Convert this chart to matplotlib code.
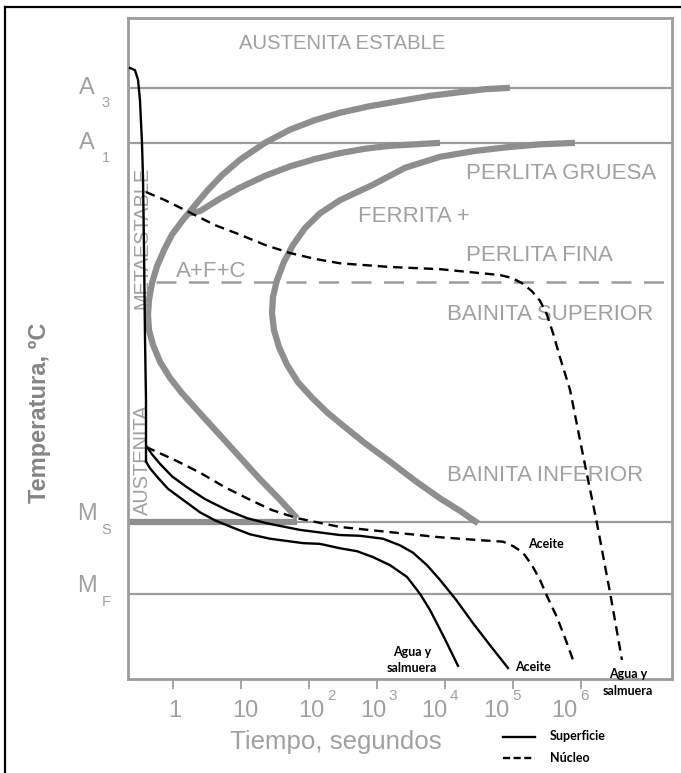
import matplotlib.pyplot as plt
from matplotlib.lines import Line2D
import matplotlib.transforms as mtransforms

# temperature levels (ºC scale)
A3, A1, AFC, MS, MF = 805, 730, 540, 214, 116

# gray C-curves (time in s, temperature)
start_t = [90400, 38730, 16600, 6016, 2180, 789, 286, 122.5, 52.6, 22.5, 9.66,
           5.26, 3.27, 2.11, 1.40, 0.966, 0.738, 0.582, 0.491, 0.444, 0.429,
           0.444, 0.508, 0.644, 0.903, 1.36, 2.49, 4.91, 9.66, 19.0, 37.5, 66.7]
start_T = [805, 803, 799, 794, 787, 780, 771, 761, 748, 730, 707,
           686, 666, 645, 625, 605, 584, 562, 539, 516, 496,
           475, 455, 432, 410, 389, 362, 332, 302, 272, 244, 219]
a1_branch_t = [8440, 3622, 1553, 666, 286, 122.5, 52.6, 22.5, 9.66, 4.91, 2.49, 1.72]
a1_branch_T = [730, 728, 726, 722, 716, 708, 698, 685, 669, 654, 637, 634]
end_t = [816000, 249500, 81600, 27600, 8440, 2582, 873, 286, 145, 87.4, 58.2,
         42.9, 33.8, 29.5, 28.6, 30.6, 36.2, 47.5, 68.9, 110.7, 190, 338, 666,
         1553, 3622, 8440, 16600, 30550]
end_T = [730, 728, 724, 719, 711, 696, 673, 652, 634, 614, 591,
         568, 543, 520, 498, 475, 452, 428, 404, 383, 362, 343, 321,
         296, 270, 246, 229, 212]
ms_bar_t = [0.218, 66.7]

# cooling curves
surf_vert_t = [0.233, 0.276, 0.306, 0.327, 0.350, 0.362, 0.375, 0.388, 0.401, 0.401]
surf_vert_T = [832, 829, 816, 788, 730, 684, 584, 462, 380, 296]
surf_agua_t = [0.401, 0.459, 0.601, 0.844, 1.40, 2.49, 4.15, 7.63, 13.6, 26.7,
               81.6, 145, 286, 508, 873, 1553, 2762, 4290, 6016, 9660, 15520]
surf_agua_T = [296, 287, 274, 259, 244, 227, 216, 206, 197, 191,
               185, 184, 178, 174, 166, 155, 139, 116, 94, 57, 18]
surf_aceite_t = [0.415, 0.491, 0.644, 0.966, 1.61, 2.95, 6.22, 12.25, 24.1, 73.8,
                 286, 562, 1225, 2180, 3384, 5433, 8440, 14520, 25820, 45900, 84400]
surf_aceite_T = [316, 306, 293, 276, 261, 245, 230, 219, 212, 203,
                 196, 195, 191, 182, 172, 155, 135, 108, 76, 46, 15]
core_aceite_t = [0.401, 1.07, 2.49, 5.82, 13.6, 28.6, 66.7, 286, 8440, 32700,
                 71290, 100000, 140300, 190000, 249500, 327000, 443700, 582000, 762900]
core_aceite_T = [316, 298, 281, 261, 244, 230, 219, 207, 193, 189,
                 187, 181, 172, 155, 135, 110, 84, 56, 26]
core_agua_t = [0.401, 0.762, 1.78, 4.15, 9.66, 22.5, 52.6, 122.5, 286, 1553, 8440,
               23300, 64420, 96700, 135600, 190000, 249500, 316000, 387500, 491000,
               688900, 1.07e6, 1718000, 2.67e6, 4009000]
core_agua_T = [663, 652, 635, 618, 605, 591, 580, 572, 566, 561, 558,
               554, 550, 546, 539, 528, 515, 496, 471, 438,
               394, 305, 212, 118, 26]

tick_exp = [0, 1, 2, 3, 4, 5, 6]
tick_base = ['1', '10', '10', '10', '10', '10', '10']
tick_sup = ['', '', '2', '3', '4', '5', '6']

GRAY = '#8e8e8e'
FRAME = '#9c9c9c'
TXT = '#a0a0a0'
SANS = ['Liberation Sans', 'DejaVu Sans']

fig = plt.figure(figsize=(6.81, 7.73), dpi=100)
ax = fig.add_axes([128 / 681, 1 - 679 / 773, 544 / 681, 661 / 773])
ax.set_xscale('log')
ax.set_xlim(0.218, 2.18e7)
ax.set_ylim(0, 900)

for s in ax.spines.values():
    s.set_color(FRAME)
    s.set_linewidth(2)
ax.set_yticks([])
ax.set_xticks([10.0 ** e for e in tick_exp])
ax.set_xticklabels([])
ax.minorticks_off()
ax.tick_params(axis='x', direction='out', length=7, width=1.3, color=FRAME)

# horizontal reference lines
for lvl in [A3, A1, MS, MF]:
    ax.axhline(lvl, color=FRAME, lw=1.6, zorder=1)
ax.plot([0.562, 2.18e7], [AFC, AFC], color=FRAME, lw=1.8, ls=(0, (8, 5)), zorder=1)

# C-curves
ckw = dict(color=GRAY, lw=4.5, solid_capstyle='butt', solid_joinstyle='round', zorder=2)
ax.plot(start_t, start_T, **ckw)
ax.plot(a1_branch_t, a1_branch_T, **ckw)
ax.plot(end_t, end_T, **ckw)
ax.plot(ms_bar_t, [MS, MS], **ckw)

# cooling curves
kw = dict(color='black', lw=1.7, zorder=4)
ax.plot(surf_vert_t, surf_vert_T, **kw)
ax.plot(surf_agua_t, surf_agua_T, **kw)
ax.plot(surf_aceite_t, surf_aceite_T, **kw)
ax.plot(core_aceite_t, core_aceite_T, ls=(0, (4, 2.5)), **kw)
ax.plot(core_agua_t, core_agua_T, ls=(0, (4, 2.5)), **kw)

# region labels
tA = ax.transAxes
rkw = dict(transform=tA, va='center', color=TXT, family=SANS)
ax.text(0.393, 0.962, 'AUSTENITA ESTABLE', ha='center', fontsize=14.6, **rkw)
ax.text(0.621, 0.765, 'PERLITA GRUESA', ha='left', fontsize=16, **rkw)
ax.text(0.423, 0.699, 'FERRITA +', ha='left', fontsize=16, **rkw)
ax.text(0.621, 0.641, 'PERLITA FINA', ha='left', fontsize=16, **rkw)
ax.text(0.089, 0.616, 'A+F+C', ha='left', fontsize=16, **rkw)
ax.text(0.586, 0.551, 'BAINITA SUPERIOR', ha='left', fontsize=16, **rkw)
ax.text(0.586, 0.308, 'BAINITA INFERIOR', ha='left', fontsize=16, **rkw)
ax.text(0.026, 0.667, 'METAESTABLE', ha='center', rotation=90, fontsize=14.4, **rkw)
ax.text(0.026, 0.332, 'AUSTENITA', ha='center', rotation=90, fontsize=14.4, **rkw)

# critical temperature labels (left of axis)
tB = mtransforms.blended_transform_factory(fig.transFigure, ax.transData)
for name, sub, lvl in [('A', '3', A3), ('A', '1', A1), ('M', 'S', MS), ('M', 'F', MF)]:
    dy = 0 if name == 'A' else 10
    ax.text(87 / 681, lvl + dy, name, transform=tB, ha='center', va='center',
            fontsize=17, color=TXT, family=SANS)
    ax.text(106 / 681, lvl + dy - 21, sub, transform=tB, ha='center', va='center',
            fontsize=10.5, color=TXT, family=SANS)

# x tick labels with superscripts
tX = mtransforms.blended_transform_factory(ax.transData, ax.transAxes)
base_off = [0.03, 0.06, 0.04, -0.06, -0.16, -0.24, -0.24]
for e, b, s, o in zip(tick_exp, tick_base, tick_sup, base_off):
    ax.text(10.0 ** (e + o), -0.048, b, transform=tX, ha='center', va='center',
            fontsize=17, color=TXT, family=SANS)
    if s:
        ax.text(10.0 ** (e + o + 0.29), -0.026, s, transform=tX, ha='center',
                va='center', fontsize=11, color=TXT, family=SANS)

fig.text(336 / 681, 1 - 742 / 773, 'Tiempo, segundos', ha='center', va='center',
         fontsize=18.6, color=TXT, family=SANS)
fig.text(40 / 681, 1 - 413 / 773, 'Temperatura, ºC', ha='center', va='center',
         rotation=90, fontsize=17, fontweight='bold', color='#858585', family=SANS)

# quench labels
LBL = dict(fontsize=9, fontweight='bold', color='black', family=['Lato', 'DejaVu Sans'],
           ha='center', va='center', transform=tA, linespacing=1.45)
ax.text(0.768, 0.204, 'Aceite', **LBL)
ax.text(0.522, 0.029, 'Agua y\nsalmuera', **LBL)
ax.text(0.744, 0.018, 'Aceite', **LBL)
ax.text(0.919, -0.005, 'Agua y\nsalmuera', clip_on=False, **LBL)

# legend
fig.add_artist(Line2D([503 / 681, 535 / 681], [1 - 737 / 773] * 2, color='black', lw=1.7))
fig.add_artist(Line2D([503 / 681, 535 / 681], [1 - 758 / 773] * 2, color='black', lw=1.7,
                      ls=(0, (3, 1.5))))
fig.text(550 / 681, 1 - 736 / 773, 'Superficie', ha='left', va='center', fontsize=9,
         fontweight='bold', family=['Lato', 'DejaVu Sans'])
fig.text(550 / 681, 1 - 758 / 773, 'Núcleo', ha='left', va='center', fontsize=9,
         fontweight='bold', family=['Lato', 'DejaVu Sans'])

# outer frame (left and top edges visible)
fig.add_artist(Line2D([5 / 681, 5 / 681], [0, 1 - 7 / 773], color='black', lw=1.6))
fig.add_artist(Line2D([5 / 681, 1], [1 - 7 / 773] * 2, color='black', lw=1.6))

fig.savefig('out.png', dpi=100)
